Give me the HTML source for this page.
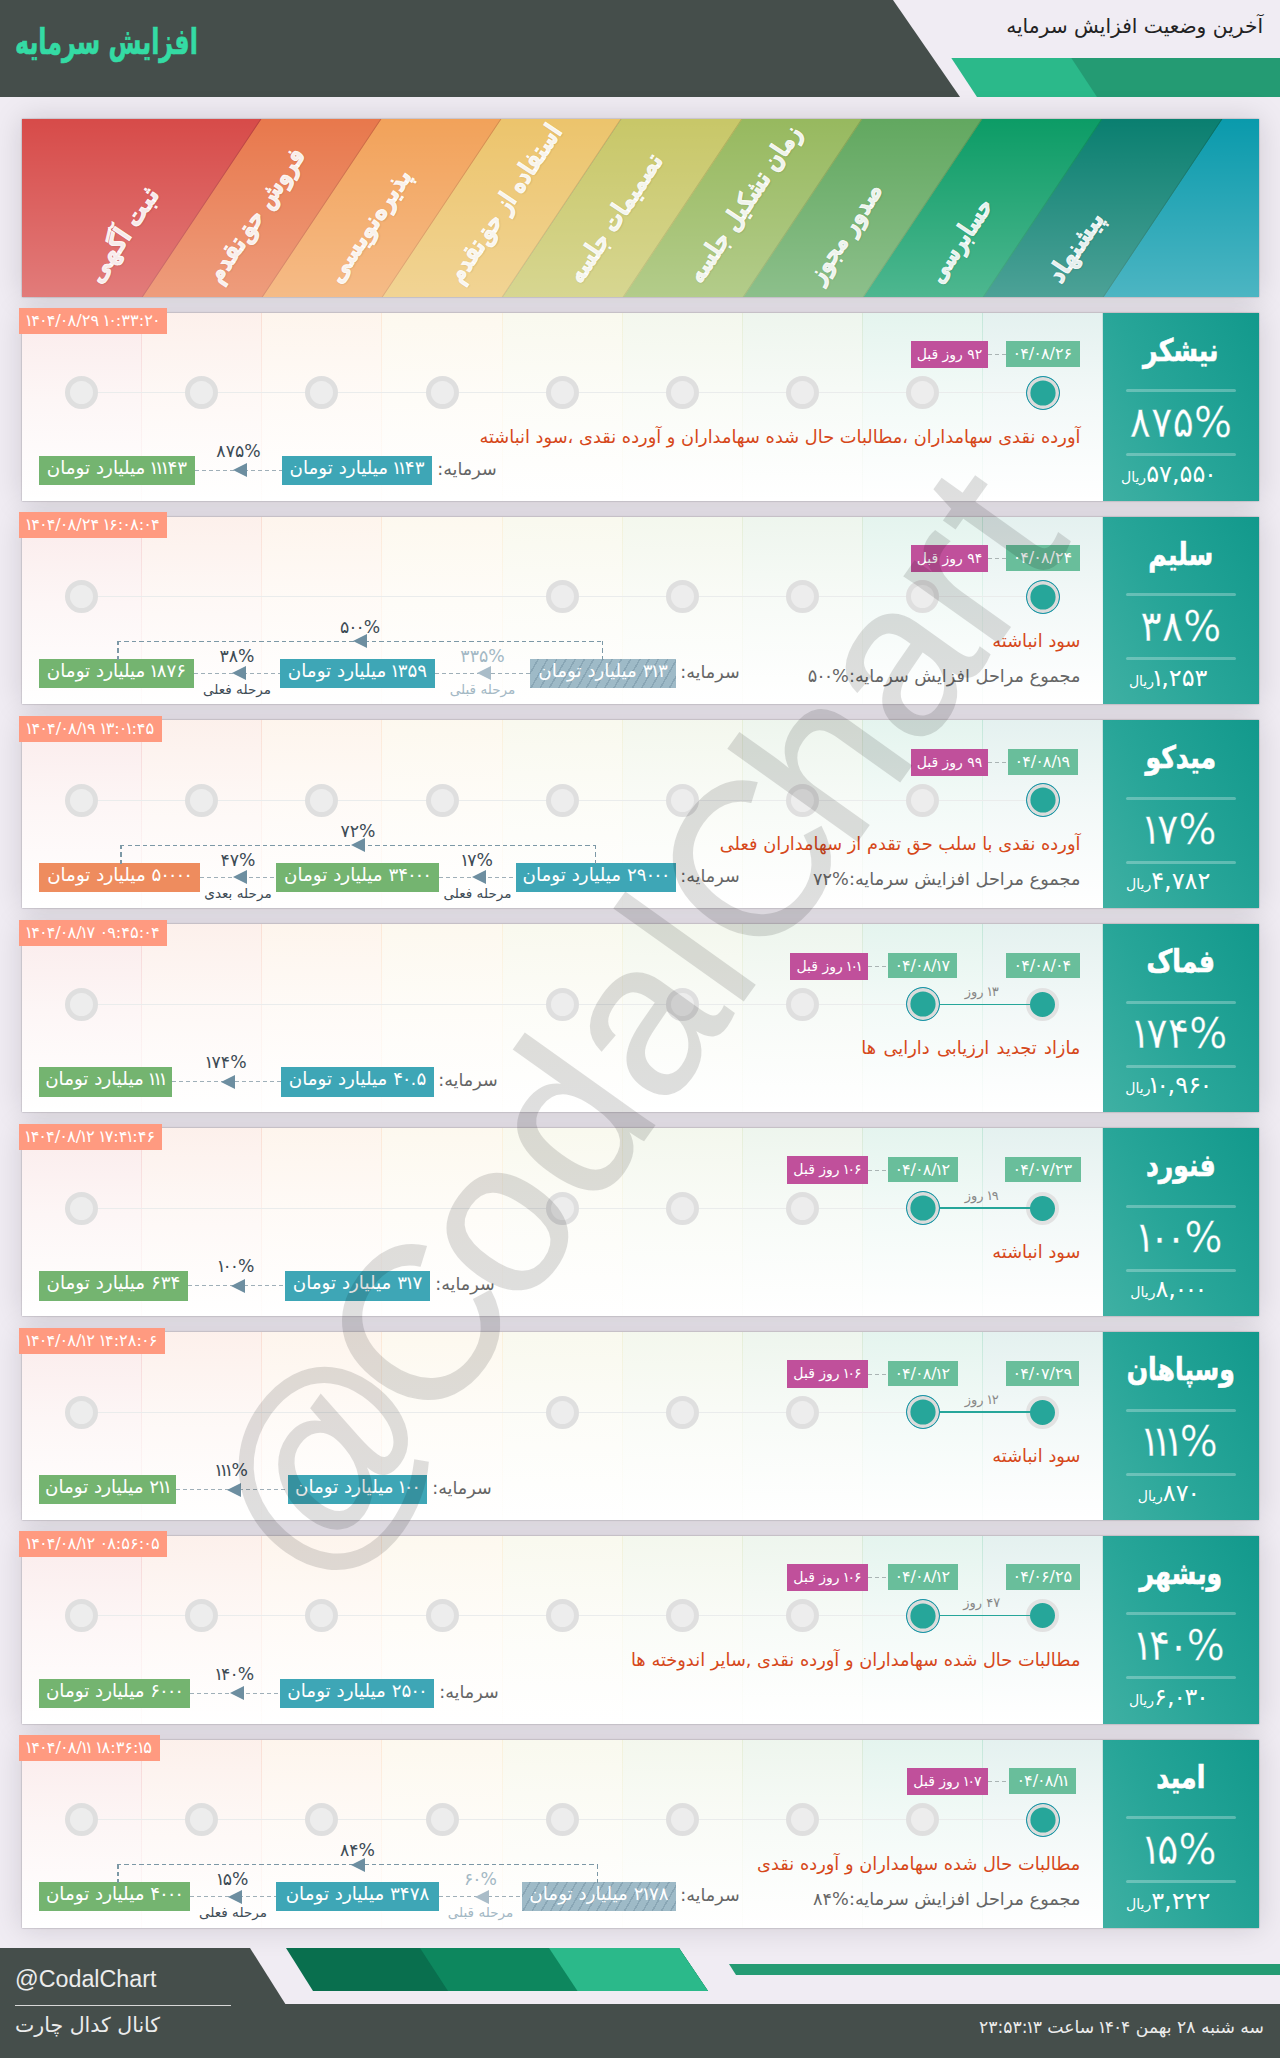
<!DOCTYPE html><html lang="fa" dir="rtl"><head><meta charset="utf-8"><title>افزایش سرمایه</title><style>
*{box-sizing:border-box}
b{font-weight:inherit;margin:0 -.12em}
b.z{margin:0 -.06em}
html,body{margin:0;padding:0}
body{width:1280px;height:2058px;background:#f0ecf3;position:relative;overflow:hidden;font-family:"DejaVu Sans","Liberation Sans",sans-serif;direction:rtl}
.abs{position:absolute}
#hdr{position:absolute;left:0;top:0;width:1280px;height:97px}
#hdr .dark{position:absolute;left:0;top:0;width:960px;height:97px;background:#454e4b;clip-path:polygon(0 0,893px 0,960px 97px,0 97px)}
#hdr .g1{position:absolute;left:951px;top:57.5px;width:329px;height:39.5px;background:#2bb98a;clip-path:polygon(0 0,100% 0,100% 100%,26px 100%)}
#hdr .g2{position:absolute;left:1071px;top:57.5px;width:209px;height:39.5px;background:#249b73;clip-path:polygon(0 0,100% 0,100% 100%,26px 100%)}
#hdr h1{position:absolute;left:15px;top:19px;margin:0;font-family:"DejaVu Sans Condensed","DejaVu Sans",sans-serif;font-stretch:condensed;font-size:36px;line-height:46px;font-weight:bold;color:#34dba4;-webkit-text-stroke:.6px #34dba4;white-space:nowrap;direction:rtl;transform:scaleX(.735);transform-origin:0 50%}
#hdr .sub{position:absolute;right:17px;top:12px;font-size:20.2px;line-height:28px;color:#222;white-space:nowrap}
#stages{position:absolute;left:22px;top:119px;width:1237px;height:177.5px;overflow:hidden;background:#0a9aac}
#stages .st{position:absolute;top:0;height:177.5px;transform:skewX(-33.69deg);transform-origin:0 100%;border-right:1px solid rgba(0,0,0,.18)}
#stages .fade{position:absolute;left:0;top:0;width:100%;height:100%;background:linear-gradient(to bottom,rgba(255,255,255,0) 0%,rgba(255,255,255,.27) 100%)}
#stages .lb{position:absolute;white-space:nowrap;color:rgba(255,255,255,.9);font-family:"DejaVu Sans Condensed","DejaVu Sans",sans-serif;font-stretch:condensed;-webkit-text-stroke:.9px rgba(255,255,255,.9);font-weight:bold;font-size:26px;line-height:30px;height:30px;transform-origin:0 100%;transform:rotate(-56.3deg) scaleX(.88);text-align:left;direction:rtl;text-shadow:0 1px 2px rgba(0,0,0,.15)}
.row{position:absolute;left:22px;width:1237px;height:187.85px;background:#fff}
.rsh{position:absolute;left:22px;width:1237px;height:187.85px;box-shadow:0 0 28px rgba(20,10,25,.15),0 0 1.5px rgba(20,10,25,.4)}
.row .col{position:absolute;top:0;height:187.85px}
.row .cl{position:absolute;top:0;height:187.85px;width:1px}
.row .hl{position:absolute;left:60px;top:79.5px;height:1px;background:#eaecec}
.row .c{position:absolute;top:63.5px;width:33px;height:33px;border-radius:50%;background:#ededed;border:5.5px solid #dfdfdf}
.row .ca{position:absolute;top:63px;width:34px;height:34px;border-radius:50%;background:#26a69a;border:1.6px solid #1a94a8;box-shadow:inset 0 0 0 3.4px #dcdcdc}
.row .cf{position:absolute;top:63.5px;width:33px;height:33px;border-radius:50%;background:#26a69a;border:4.5px solid #e2e2e2}
.row .ts{position:absolute;left:-3px;top:-4.5px;width:148px;height:26px;background:#ff9a80;color:#fff;font-size:16.2px;line-height:26px;text-align:center;direction:ltr;white-space:nowrap}
.row .panel{position:absolute;right:0;top:0;width:155.6px;height:187.85px;background:linear-gradient(60deg,#3fb0a3 0%,#27a598 45%,#12998c 100%);color:#fff;text-align:center}
.panel .nm{position:absolute;left:0;right:0;top:13px;font-family:"DejaVu Sans Condensed","DejaVu Sans",sans-serif;font-stretch:condensed;font-size:31px;line-height:48px;font-weight:bold;-webkit-text-stroke:.6px #fff;white-space:nowrap;transform:scaleX(.9)}
.panel .l1,.panel .l2{position:absolute;left:23px;width:110px;height:3px;border-radius:2px;background:rgba(255,255,255,.28)}
.panel .l1{top:76.5px}.panel .l2{top:140.5px}
.panel .pc{position:absolute;left:0;right:0;top:82px;font-size:43px;line-height:54px;white-space:nowrap;direction:ltr;-webkit-text-stroke:.35px #27a396;transform:scaleX(.93)}
.panel .pr{position:absolute;left:-26px;right:0;top:146px;font-size:24px;line-height:30px;white-space:nowrap;direction:rtl}
.panel .pr small{font-size:14px}
.bd{position:absolute;height:25.7px;line-height:25.7px;color:#fff;font-size:15px;text-align:center;white-space:nowrap;top:28.5px}
.bd.d{background:#69be9b;direction:ltr;font-size:16px}
.bd.p{background:#c0509b;direction:rtl;font-size:14px;top:28.3px;height:27.3px;line-height:27.3px}
.dash{position:absolute;height:1px;background:repeating-linear-gradient(to right,#aab4b4 0,#aab4b4 4px,transparent 4px,transparent 7px)}
.desc{position:absolute;right:178.6px;white-space:nowrap;font-size:17.8px;line-height:26px;color:#d6481a;direction:rtl}
.sum{position:absolute;right:178.6px;white-space:nowrap;font-size:17.7px;line-height:26px;color:#666;direction:rtl}
.cap{position:absolute;white-space:nowrap;font-size:17.6px;line-height:24px;color:#666;direction:rtl}
.bx{position:absolute;height:29.4px;line-height:24.4px;color:#fff;font-size:18.3px;text-align:center;white-space:nowrap;direction:rtl}
.bx.b{background:#3ea6b6}.bx.g{background:#74b470}.bx.o{background:#ee8c5e}
.bx.h{background:repeating-linear-gradient(120deg,#9ebac7 0,#9ebac7 6.5px,#89a6b5 6.5px,#89a6b5 8px)}
.fl{position:absolute;height:1px;background:repeating-linear-gradient(to right,#9fafb8 0,#9fafb8 4px,transparent 4px,transparent 7px)}
.ar{position:absolute;width:0;height:0;border-top:7px solid transparent;border-bottom:7px solid transparent;border-right:14px solid #6d8ea0}
.ar.lt{border-right-color:#a9bcc8}
.pl{position:absolute;font-size:17.3px;line-height:20px;color:#3d4b55;white-space:nowrap;direction:ltr;text-align:center;width:80px}
.pl.lt{color:#a3b8c4}
.sl{position:absolute;font-size:13.6px;line-height:18px;color:#3d4b55;white-space:nowrap;direction:rtl;text-align:center;width:90px}
.sl.lt{color:#a3b8c4}
.arc{position:absolute;height:19px}
.arc i{position:absolute;display:block}
.arc .t{left:0;right:0;top:0;height:1.4px;background:repeating-linear-gradient(to right,#7c98a6 0,#7c98a6 4.5px,transparent 4.5px,transparent 7.5px)}
.arc .l{left:0;top:0;bottom:0;width:1.5px;background:repeating-linear-gradient(to bottom,#7c98a6 0,#7c98a6 4.5px,transparent 4.5px,transparent 7.5px)}
.arc .r{right:0;top:0;bottom:0;width:1.5px;background:repeating-linear-gradient(to bottom,#7c98a6 0,#7c98a6 4.5px,transparent 4.5px,transparent 7.5px)}
.seg{position:absolute;height:1.3px;background:#26a69a;top:79.3px}
.dl{position:absolute;font-size:13px;line-height:18px;color:#888;white-space:nowrap;direction:rtl;text-align:center;width:60px}
#wm{position:absolute;left:0;top:0;width:1280px;height:2058px;pointer-events:none;overflow:hidden}
#wm{opacity:.122}
#wm i{display:inline-block;font-style:normal;text-align:center}
#wm span{position:absolute;left:635px;top:1022px;font-family:"Liberation Sans",sans-serif;font-size:219px;line-height:200px;color:#000;-webkit-text-stroke:1.5px #000;white-space:nowrap;direction:ltr;transform:translate(-50%,-50%) rotate(-54.5deg)}
#ftr{position:absolute;left:0;top:1948px;width:1280px;height:110px}
#ftr .bar{position:absolute;left:0;top:56px;width:1280px;height:54px;background:#454e4b}
#ftr .blk{position:absolute;left:0;top:0;width:290px;height:57px;background:#454e4b;clip-path:polygon(0 0,250px 0,286px 57px,0 57px)}
#ftr .p1,#ftr .p2,#ftr .p3{position:absolute;top:0;height:43px}
#ftr .p1{left:286px;width:422px;background:#096f4e;clip-path:polygon(0 0,393px 0,422px 43px,27px 43px)}
#ftr .p2{left:420px;width:288px;background:#0d875e;clip-path:polygon(0 0,259px 0,288px 43px,28px 43px)}
#ftr .p3{left:549px;width:159px;background:#2bb98a;clip-path:polygon(0 0,130px 0,159px 43px,28.5px 43px)}
#ftr .ln{position:absolute;left:729px;top:16px;width:551px;height:11px;background:#249b73;clip-path:polygon(0 0,100% 0,100% 100%,7px 100%)}
#ftr .t1{position:absolute;left:15px;top:17px;font-family:"Liberation Sans",sans-serif;font-size:23.3px;line-height:28px;color:#ececec;direction:ltr;white-space:nowrap}
#ftr .hr{position:absolute;left:15px;top:57px;width:216px;height:1px;background:#d8d8d8}
#ftr .t2{position:absolute;left:15px;top:62px;font-size:20.5px;line-height:30px;color:#ececec;white-space:nowrap;direction:rtl}
#ftr .t3{position:absolute;right:16px;top:66px;font-size:17.2px;line-height:26px;color:#ececec;white-space:nowrap;direction:rtl}
</style></head><body>
<div id="hdr"><div class="dark"></div><div class="g1"></div><div class="g2"></div><h1>افزایش سرمایه</h1><div class="sub">آخرین وضعیت افزایش سرمایه</div></div>
<div class="rsh" style="top:119px;height:177.5px"></div><div class="rsh" style="top:312.7px"></div><div class="rsh" style="top:516.56px"></div><div class="rsh" style="top:720.4200000000001px"></div><div class="rsh" style="top:924.28px"></div><div class="rsh" style="top:1128.14px"></div><div class="rsh" style="top:1332.0px"></div><div class="rsh" style="top:1535.8600000000001px"></div><div class="rsh" style="top:1739.72px"></div>
<div id="stages"><div class="st" style="left:1081.40px;width:241.31px;background:#0a9aac;border-right-color:#088493"></div><div class="st" style="left:961.24px;width:121.16px;background:#0a7f70;border-right-color:#086d60"></div><div class="st" style="left:841.09px;width:121.16px;background:#0c9c66;border-right-color:#0a8657"></div><div class="st" style="left:720.93px;width:121.16px;background:#62a860;border-right-color:#549052"></div><div class="st" style="left:600.78px;width:121.16px;background:#97b95f;border-right-color:#819f51"></div><div class="st" style="left:480.62px;width:121.16px;background:#c8c768;border-right-color:#acab59"></div><div class="st" style="left:360.47px;width:121.16px;background:#ecc46c;border-right-color:#caa85c"></div><div class="st" style="left:240.31px;width:121.16px;background:#f2a25a;border-right-color:#d08b4d"></div><div class="st" style="left:120.16px;width:121.16px;background:#e8784c;border-right-color:#c76741"></div><div class="st" style="left:-120.16px;width:241.31px;background:#d74b49;border-right-color:#b8403e"></div><div class="fade"></div><div class="lb" style="left:83.0px;top:139px;transform:rotate(-56.3deg) scaleX(0.97)">ثبت آگهی</div><div class="lb" style="left:203.2px;top:139px;transform:rotate(-56.3deg) scaleX(0.87)">فروش حق‌تقدم</div><div class="lb" style="left:323.3px;top:139px;transform:rotate(-56.3deg) scaleX(0.94)">پذیره‌نویسی</div><div class="lb" style="left:443.5px;top:139px;transform:rotate(-56.3deg) scaleX(0.82)">استفاده از حق‌تقدم</div><div class="lb" style="left:563.6px;top:139px;transform:rotate(-56.3deg) scaleX(0.84)">تصمیمات جلسه</div><div class="lb" style="left:683.8px;top:139px;transform:rotate(-56.3deg) scaleX(0.855)">زمان تشکیل جلسه</div><div class="lb" style="left:803.9px;top:139px;transform:rotate(-56.3deg) scaleX(0.86)">صدور مجوز</div><div class="lb" style="left:924.1px;top:139px;transform:rotate(-56.3deg) scaleX(0.8)">حسابرسی</div><div class="lb" style="left:1044.2px;top:139px;transform:rotate(-56.3deg) scaleX(0.9)">پیشنهاد</div></div>
<div class="row" style="top:312.7px"><div class="col" style="left:0.00px;width:120.16px;background:linear-gradient(to bottom,rgba(215,75,73,0.11) 0%,rgba(215,75,73,0.05) 45%,rgba(215,75,73,0) 100%)"></div><div class="cl" style="left:119.16px;background:linear-gradient(to bottom,rgba(215,75,73,0.15) 0%,rgba(215,75,73,0.06) 50%,rgba(215,75,73,0.015) 100%)"></div><div class="col" style="left:120.16px;width:120.16px;background:linear-gradient(to bottom,rgba(232,120,76,0.11) 0%,rgba(232,120,76,0.05) 45%,rgba(232,120,76,0) 100%)"></div><div class="cl" style="left:239.31px;background:linear-gradient(to bottom,rgba(232,120,76,0.15) 0%,rgba(232,120,76,0.06) 50%,rgba(232,120,76,0.015) 100%)"></div><div class="col" style="left:240.31px;width:120.16px;background:linear-gradient(to bottom,rgba(242,162,90,0.11) 0%,rgba(242,162,90,0.05) 45%,rgba(242,162,90,0) 100%)"></div><div class="cl" style="left:359.47px;background:linear-gradient(to bottom,rgba(242,162,90,0.15) 0%,rgba(242,162,90,0.06) 50%,rgba(242,162,90,0.015) 100%)"></div><div class="col" style="left:360.47px;width:120.16px;background:linear-gradient(to bottom,rgba(236,196,108,0.11) 0%,rgba(236,196,108,0.05) 45%,rgba(236,196,108,0) 100%)"></div><div class="cl" style="left:479.62px;background:linear-gradient(to bottom,rgba(236,196,108,0.15) 0%,rgba(236,196,108,0.06) 50%,rgba(236,196,108,0.015) 100%)"></div><div class="col" style="left:480.62px;width:120.16px;background:linear-gradient(to bottom,rgba(200,199,104,0.11) 0%,rgba(200,199,104,0.05) 45%,rgba(200,199,104,0) 100%)"></div><div class="cl" style="left:599.78px;background:linear-gradient(to bottom,rgba(200,199,104,0.15) 0%,rgba(200,199,104,0.06) 50%,rgba(200,199,104,0.015) 100%)"></div><div class="col" style="left:600.78px;width:120.16px;background:linear-gradient(to bottom,rgba(151,185,95,0.11) 0%,rgba(151,185,95,0.05) 45%,rgba(151,185,95,0) 100%)"></div><div class="cl" style="left:719.93px;background:linear-gradient(to bottom,rgba(151,185,95,0.15) 0%,rgba(151,185,95,0.06) 50%,rgba(151,185,95,0.015) 100%)"></div><div class="col" style="left:720.93px;width:120.16px;background:linear-gradient(to bottom,rgba(98,168,96,0.11) 0%,rgba(98,168,96,0.05) 45%,rgba(98,168,96,0) 100%)"></div><div class="cl" style="left:840.09px;background:linear-gradient(to bottom,rgba(98,168,96,0.15) 0%,rgba(98,168,96,0.06) 50%,rgba(98,168,96,0.015) 100%)"></div><div class="col" style="left:841.09px;width:120.16px;background:linear-gradient(to bottom,rgba(12,156,102,0.11) 0%,rgba(12,156,102,0.05) 45%,rgba(12,156,102,0) 100%)"></div><div class="cl" style="left:960.24px;background:linear-gradient(to bottom,rgba(12,156,102,0.15) 0%,rgba(12,156,102,0.06) 50%,rgba(12,156,102,0.015) 100%)"></div><div class="col" style="left:961.24px;width:120.16px;background:linear-gradient(to bottom,rgba(10,127,112,0.11) 0%,rgba(10,127,112,0.05) 45%,rgba(10,127,112,0) 100%)"></div><div class="cl" style="left:1080.40px;background:linear-gradient(to bottom,rgba(10,127,112,0.15) 0%,rgba(10,127,112,0.06) 50%,rgba(10,127,112,0.015) 100%)"></div><div class="hl" style="left:59.6px;width:961.2px"></div><div class="c" style="left:43.1px"></div><div class="c" style="left:163.2px"></div><div class="c" style="left:283.4px"></div><div class="c" style="left:403.5px"></div><div class="c" style="left:523.7px"></div><div class="c" style="left:643.9px"></div><div class="c" style="left:764.0px"></div><div class="c" style="left:884.2px"></div><div class="ca" style="left:1003.8px"></div><div class="bd d" style="left:983.8px;width:74px"><b class="z">۰</b>۴/<b class="z">۰</b>۸/۲۶</div><div class="dash" style="left:966.0px;width:17.8px;top:41.5px"></div><div class="bd p" style="left:889.0px;width:77px">۹۲ روز قبل</div><div class="desc" style="top:111px">آورده نقدی سهامداران ،مطالبات حال شده سهامداران و آورده نقدی ،سود انباشته</div><div class="ts" style="width:148.0px"><b>۱</b>۴<b class="z">۰</b>۴/<b class="z">۰</b>۸/۲۹ <b>۱</b><b class="z">۰</b>:۳۳:۲<b class="z">۰</b></div><div class="cap" style="left:407.5px;width:75.0px;text-align:center;top:144px">سرمایه:</div><div class="bx b" style="left:260.0px;width:150px;top:143px"><b>۱</b><b>۱</b>۴۳ میلیارد تومان</div><div class="bx g" style="left:17.0px;width:156px;top:143px"><b>۱</b><b>۱</b><b>۱</b>۴۳ میلیارد تومان</div><div class="fl" style="left:173.0px;width:87px;top:157px"></div><div class="ar" style="left:211.0px;top:150.5px"></div><div class="pl" style="left:176.5px;top:128px">۸۷۵%</div><div class="panel"><div class="nm">نیشکر</div><div class="l1"></div><div class="pc">۸۷۵%</div><div class="l2"></div><div class="pr">۵۷,۵۵<b class="z">۰</b><small>ریال</small></div></div></div>
<div class="row" style="top:516.56px"><div class="col" style="left:0.00px;width:120.16px;background:linear-gradient(to bottom,rgba(215,75,73,0.11) 0%,rgba(215,75,73,0.05) 45%,rgba(215,75,73,0) 100%)"></div><div class="cl" style="left:119.16px;background:linear-gradient(to bottom,rgba(215,75,73,0.15) 0%,rgba(215,75,73,0.06) 50%,rgba(215,75,73,0.015) 100%)"></div><div class="col" style="left:120.16px;width:120.16px;background:linear-gradient(to bottom,rgba(232,120,76,0.11) 0%,rgba(232,120,76,0.05) 45%,rgba(232,120,76,0) 100%)"></div><div class="cl" style="left:239.31px;background:linear-gradient(to bottom,rgba(232,120,76,0.15) 0%,rgba(232,120,76,0.06) 50%,rgba(232,120,76,0.015) 100%)"></div><div class="col" style="left:240.31px;width:120.16px;background:linear-gradient(to bottom,rgba(242,162,90,0.11) 0%,rgba(242,162,90,0.05) 45%,rgba(242,162,90,0) 100%)"></div><div class="cl" style="left:359.47px;background:linear-gradient(to bottom,rgba(242,162,90,0.15) 0%,rgba(242,162,90,0.06) 50%,rgba(242,162,90,0.015) 100%)"></div><div class="col" style="left:360.47px;width:120.16px;background:linear-gradient(to bottom,rgba(236,196,108,0.11) 0%,rgba(236,196,108,0.05) 45%,rgba(236,196,108,0) 100%)"></div><div class="cl" style="left:479.62px;background:linear-gradient(to bottom,rgba(236,196,108,0.15) 0%,rgba(236,196,108,0.06) 50%,rgba(236,196,108,0.015) 100%)"></div><div class="col" style="left:480.62px;width:120.16px;background:linear-gradient(to bottom,rgba(200,199,104,0.11) 0%,rgba(200,199,104,0.05) 45%,rgba(200,199,104,0) 100%)"></div><div class="cl" style="left:599.78px;background:linear-gradient(to bottom,rgba(200,199,104,0.15) 0%,rgba(200,199,104,0.06) 50%,rgba(200,199,104,0.015) 100%)"></div><div class="col" style="left:600.78px;width:120.16px;background:linear-gradient(to bottom,rgba(151,185,95,0.11) 0%,rgba(151,185,95,0.05) 45%,rgba(151,185,95,0) 100%)"></div><div class="cl" style="left:719.93px;background:linear-gradient(to bottom,rgba(151,185,95,0.15) 0%,rgba(151,185,95,0.06) 50%,rgba(151,185,95,0.015) 100%)"></div><div class="col" style="left:720.93px;width:120.16px;background:linear-gradient(to bottom,rgba(98,168,96,0.11) 0%,rgba(98,168,96,0.05) 45%,rgba(98,168,96,0) 100%)"></div><div class="cl" style="left:840.09px;background:linear-gradient(to bottom,rgba(98,168,96,0.15) 0%,rgba(98,168,96,0.06) 50%,rgba(98,168,96,0.015) 100%)"></div><div class="col" style="left:841.09px;width:120.16px;background:linear-gradient(to bottom,rgba(12,156,102,0.11) 0%,rgba(12,156,102,0.05) 45%,rgba(12,156,102,0) 100%)"></div><div class="cl" style="left:960.24px;background:linear-gradient(to bottom,rgba(12,156,102,0.15) 0%,rgba(12,156,102,0.06) 50%,rgba(12,156,102,0.015) 100%)"></div><div class="col" style="left:961.24px;width:120.16px;background:linear-gradient(to bottom,rgba(10,127,112,0.11) 0%,rgba(10,127,112,0.05) 45%,rgba(10,127,112,0) 100%)"></div><div class="cl" style="left:1080.40px;background:linear-gradient(to bottom,rgba(10,127,112,0.15) 0%,rgba(10,127,112,0.06) 50%,rgba(10,127,112,0.015) 100%)"></div><div class="hl" style="left:59.6px;width:961.2px"></div><div class="c" style="left:43.1px"></div><div class="c" style="left:523.7px"></div><div class="c" style="left:643.9px"></div><div class="c" style="left:764.0px"></div><div class="c" style="left:884.2px"></div><div class="ca" style="left:1003.8px"></div><div class="bd d" style="left:984.1px;width:73.5px"><b class="z">۰</b>۴/<b class="z">۰</b>۸/۲۴</div><div class="dash" style="left:966.0px;width:18.1px;top:41.5px"></div><div class="bd p" style="left:889.0px;width:77px">۹۴ روز قبل</div><div class="desc" style="top:111px">سود انباشته</div><div class="sum" style="top:146px">مجموع مراحل افزایش سرمایه:%۵<b class="z">۰</b><b class="z">۰</b></div><div class="ts" style="width:148.0px"><b>۱</b>۴<b class="z">۰</b>۴/<b class="z">۰</b>۸/۲۴ <b>۱</b>۶:<b class="z">۰</b>۸:<b class="z">۰</b>۴</div><div class="cap" style="left:650.0px;width:76px;text-align:center;top:143.3px">سرمایه:</div><div class="bx h" style="left:508.0px;width:146px;top:142.3px">۳<b>۱</b>۳ میلیارد تومان</div><div class="bx b" style="left:258.0px;width:155px;top:142.3px"><b>۱</b>۳۵۹ میلیارد تومان</div><div class="bx g" style="left:17.0px;width:155px;top:142.3px"><b>۱</b>۸۷۶ میلیارد تومان</div><div class="fl" style="left:413.0px;width:95px;top:156.3px"></div><div class="ar lt" style="left:455.0px;top:149.8px"></div><div class="pl lt" style="left:420.5px;top:129.3px">۳۳۵%</div><div class="sl lt" style="left:415.5px;top:163.3px">مرحله قبلی</div><div class="fl" style="left:172.0px;width:86px;top:156.3px"></div><div class="ar" style="left:209.5px;top:149.8px"></div><div class="pl" style="left:175.0px;top:129.3px">۳۸%</div><div class="sl" style="left:170.0px;top:163.3px">مرحله فعلی</div><div class="arc" style="left:95.0px;width:486px;top:124.30000000000001px"><i class="t"></i><i class="l"></i><i class="r"></i></div><div class="ar" style="left:331.0px;top:117.80000000000001px"></div><div class="pl" style="left:298.0px;top:100.30000000000001px">۵<b class="z">۰</b><b class="z">۰</b>%</div><div class="panel"><div class="nm">سلیم</div><div class="l1"></div><div class="pc">۳۸%</div><div class="l2"></div><div class="pr"><b>۱</b>,۲۵۳<small>ریال</small></div></div></div>
<div class="row" style="top:720.4200000000001px"><div class="col" style="left:0.00px;width:120.16px;background:linear-gradient(to bottom,rgba(215,75,73,0.11) 0%,rgba(215,75,73,0.05) 45%,rgba(215,75,73,0) 100%)"></div><div class="cl" style="left:119.16px;background:linear-gradient(to bottom,rgba(215,75,73,0.15) 0%,rgba(215,75,73,0.06) 50%,rgba(215,75,73,0.015) 100%)"></div><div class="col" style="left:120.16px;width:120.16px;background:linear-gradient(to bottom,rgba(232,120,76,0.11) 0%,rgba(232,120,76,0.05) 45%,rgba(232,120,76,0) 100%)"></div><div class="cl" style="left:239.31px;background:linear-gradient(to bottom,rgba(232,120,76,0.15) 0%,rgba(232,120,76,0.06) 50%,rgba(232,120,76,0.015) 100%)"></div><div class="col" style="left:240.31px;width:120.16px;background:linear-gradient(to bottom,rgba(242,162,90,0.11) 0%,rgba(242,162,90,0.05) 45%,rgba(242,162,90,0) 100%)"></div><div class="cl" style="left:359.47px;background:linear-gradient(to bottom,rgba(242,162,90,0.15) 0%,rgba(242,162,90,0.06) 50%,rgba(242,162,90,0.015) 100%)"></div><div class="col" style="left:360.47px;width:120.16px;background:linear-gradient(to bottom,rgba(236,196,108,0.11) 0%,rgba(236,196,108,0.05) 45%,rgba(236,196,108,0) 100%)"></div><div class="cl" style="left:479.62px;background:linear-gradient(to bottom,rgba(236,196,108,0.15) 0%,rgba(236,196,108,0.06) 50%,rgba(236,196,108,0.015) 100%)"></div><div class="col" style="left:480.62px;width:120.16px;background:linear-gradient(to bottom,rgba(200,199,104,0.11) 0%,rgba(200,199,104,0.05) 45%,rgba(200,199,104,0) 100%)"></div><div class="cl" style="left:599.78px;background:linear-gradient(to bottom,rgba(200,199,104,0.15) 0%,rgba(200,199,104,0.06) 50%,rgba(200,199,104,0.015) 100%)"></div><div class="col" style="left:600.78px;width:120.16px;background:linear-gradient(to bottom,rgba(151,185,95,0.11) 0%,rgba(151,185,95,0.05) 45%,rgba(151,185,95,0) 100%)"></div><div class="cl" style="left:719.93px;background:linear-gradient(to bottom,rgba(151,185,95,0.15) 0%,rgba(151,185,95,0.06) 50%,rgba(151,185,95,0.015) 100%)"></div><div class="col" style="left:720.93px;width:120.16px;background:linear-gradient(to bottom,rgba(98,168,96,0.11) 0%,rgba(98,168,96,0.05) 45%,rgba(98,168,96,0) 100%)"></div><div class="cl" style="left:840.09px;background:linear-gradient(to bottom,rgba(98,168,96,0.15) 0%,rgba(98,168,96,0.06) 50%,rgba(98,168,96,0.015) 100%)"></div><div class="col" style="left:841.09px;width:120.16px;background:linear-gradient(to bottom,rgba(12,156,102,0.11) 0%,rgba(12,156,102,0.05) 45%,rgba(12,156,102,0) 100%)"></div><div class="cl" style="left:960.24px;background:linear-gradient(to bottom,rgba(12,156,102,0.15) 0%,rgba(12,156,102,0.06) 50%,rgba(12,156,102,0.015) 100%)"></div><div class="col" style="left:961.24px;width:120.16px;background:linear-gradient(to bottom,rgba(10,127,112,0.11) 0%,rgba(10,127,112,0.05) 45%,rgba(10,127,112,0) 100%)"></div><div class="cl" style="left:1080.40px;background:linear-gradient(to bottom,rgba(10,127,112,0.15) 0%,rgba(10,127,112,0.06) 50%,rgba(10,127,112,0.015) 100%)"></div><div class="hl" style="left:59.6px;width:961.2px"></div><div class="c" style="left:43.1px"></div><div class="c" style="left:163.2px"></div><div class="c" style="left:283.4px"></div><div class="c" style="left:403.5px"></div><div class="c" style="left:523.7px"></div><div class="c" style="left:643.9px"></div><div class="c" style="left:764.0px"></div><div class="c" style="left:884.2px"></div><div class="ca" style="left:1003.8px"></div><div class="bd d" style="left:986.1px;width:69.5px"><b class="z">۰</b>۴/<b class="z">۰</b>۸/<b>۱</b>۹</div><div class="dash" style="left:966.0px;width:20.1px;top:41.5px"></div><div class="bd p" style="left:889.0px;width:77px">۹۹ روز قبل</div><div class="desc" style="top:111px">آورده نقدی با سلب حق تقدم از سهامداران فعلی</div><div class="sum" style="top:146px">مجموع مراحل افزایش سرمایه:%۷۲</div><div class="ts" style="width:143.0px"><b>۱</b>۴<b class="z">۰</b>۴/<b class="z">۰</b>۸/<b>۱</b>۹ <b>۱</b>۳:<b class="z">۰</b><b>۱</b>:۴۵</div><div class="cap" style="left:650.0px;width:76px;text-align:center;top:143.3px">سرمایه:</div><div class="bx b" style="left:494.0px;width:160px;top:142.3px">۲۹<b class="z">۰</b><b class="z">۰</b><b class="z">۰</b> میلیارد تومان</div><div class="bx g" style="left:254.0px;width:163px;top:142.3px">۳۴<b class="z">۰</b><b class="z">۰</b><b class="z">۰</b> میلیارد تومان</div><div class="bx o" style="left:17.0px;width:161px;top:142.3px">۵<b class="z">۰</b><b class="z">۰</b><b class="z">۰</b><b class="z">۰</b> میلیارد تومان</div><div class="fl" style="left:417.0px;width:77px;top:156.3px"></div><div class="ar" style="left:450.0px;top:149.8px"></div><div class="pl" style="left:415.5px;top:129.3px"><b>۱</b>۷%</div><div class="sl" style="left:410.5px;top:163.3px">مرحله فعلی</div><div class="fl" style="left:178.0px;width:76px;top:156.3px"></div><div class="ar" style="left:210.5px;top:149.8px"></div><div class="pl" style="left:176.0px;top:129.3px">۴۷%</div><div class="sl" style="left:171.0px;top:163.3px">مرحله بعدی</div><div class="arc" style="left:98.0px;width:476px;top:124.30000000000001px"><i class="t"></i><i class="l"></i><i class="r"></i></div><div class="ar" style="left:329.0px;top:117.80000000000001px"></div><div class="pl" style="left:296.0px;top:100.30000000000001px">۷۲%</div><div class="panel"><div class="nm">میدکو</div><div class="l1"></div><div class="pc"><b>۱</b>۷%</div><div class="l2"></div><div class="pr">۴,۷۸۲<small>ریال</small></div></div></div>
<div class="row" style="top:924.28px"><div class="col" style="left:0.00px;width:120.16px;background:linear-gradient(to bottom,rgba(215,75,73,0.11) 0%,rgba(215,75,73,0.05) 45%,rgba(215,75,73,0) 100%)"></div><div class="cl" style="left:119.16px;background:linear-gradient(to bottom,rgba(215,75,73,0.15) 0%,rgba(215,75,73,0.06) 50%,rgba(215,75,73,0.015) 100%)"></div><div class="col" style="left:120.16px;width:120.16px;background:linear-gradient(to bottom,rgba(232,120,76,0.11) 0%,rgba(232,120,76,0.05) 45%,rgba(232,120,76,0) 100%)"></div><div class="cl" style="left:239.31px;background:linear-gradient(to bottom,rgba(232,120,76,0.15) 0%,rgba(232,120,76,0.06) 50%,rgba(232,120,76,0.015) 100%)"></div><div class="col" style="left:240.31px;width:120.16px;background:linear-gradient(to bottom,rgba(242,162,90,0.11) 0%,rgba(242,162,90,0.05) 45%,rgba(242,162,90,0) 100%)"></div><div class="cl" style="left:359.47px;background:linear-gradient(to bottom,rgba(242,162,90,0.15) 0%,rgba(242,162,90,0.06) 50%,rgba(242,162,90,0.015) 100%)"></div><div class="col" style="left:360.47px;width:120.16px;background:linear-gradient(to bottom,rgba(236,196,108,0.11) 0%,rgba(236,196,108,0.05) 45%,rgba(236,196,108,0) 100%)"></div><div class="cl" style="left:479.62px;background:linear-gradient(to bottom,rgba(236,196,108,0.15) 0%,rgba(236,196,108,0.06) 50%,rgba(236,196,108,0.015) 100%)"></div><div class="col" style="left:480.62px;width:120.16px;background:linear-gradient(to bottom,rgba(200,199,104,0.11) 0%,rgba(200,199,104,0.05) 45%,rgba(200,199,104,0) 100%)"></div><div class="cl" style="left:599.78px;background:linear-gradient(to bottom,rgba(200,199,104,0.15) 0%,rgba(200,199,104,0.06) 50%,rgba(200,199,104,0.015) 100%)"></div><div class="col" style="left:600.78px;width:120.16px;background:linear-gradient(to bottom,rgba(151,185,95,0.11) 0%,rgba(151,185,95,0.05) 45%,rgba(151,185,95,0) 100%)"></div><div class="cl" style="left:719.93px;background:linear-gradient(to bottom,rgba(151,185,95,0.15) 0%,rgba(151,185,95,0.06) 50%,rgba(151,185,95,0.015) 100%)"></div><div class="col" style="left:720.93px;width:120.16px;background:linear-gradient(to bottom,rgba(98,168,96,0.11) 0%,rgba(98,168,96,0.05) 45%,rgba(98,168,96,0) 100%)"></div><div class="cl" style="left:840.09px;background:linear-gradient(to bottom,rgba(98,168,96,0.15) 0%,rgba(98,168,96,0.06) 50%,rgba(98,168,96,0.015) 100%)"></div><div class="col" style="left:841.09px;width:120.16px;background:linear-gradient(to bottom,rgba(12,156,102,0.11) 0%,rgba(12,156,102,0.05) 45%,rgba(12,156,102,0) 100%)"></div><div class="cl" style="left:960.24px;background:linear-gradient(to bottom,rgba(12,156,102,0.15) 0%,rgba(12,156,102,0.06) 50%,rgba(12,156,102,0.015) 100%)"></div><div class="col" style="left:961.24px;width:120.16px;background:linear-gradient(to bottom,rgba(10,127,112,0.11) 0%,rgba(10,127,112,0.05) 45%,rgba(10,127,112,0) 100%)"></div><div class="cl" style="left:1080.40px;background:linear-gradient(to bottom,rgba(10,127,112,0.15) 0%,rgba(10,127,112,0.06) 50%,rgba(10,127,112,0.015) 100%)"></div><div class="hl" style="left:59.6px;width:961.2px"></div><div class="c" style="left:43.1px"></div><div class="c" style="left:523.7px"></div><div class="c" style="left:643.9px"></div><div class="c" style="left:764.0px"></div><div class="ca" style="left:883.7px"></div><div class="cf" style="left:1004.3px"></div><div class="seg" style="left:917.7px;width:91.2px"></div><div class="dl" style="left:929.7px;top:58.5px"><b>۱</b>۳ روز</div><div class="bd d" style="left:984.1px;width:73.5px"><b class="z">۰</b>۴/<b class="z">۰</b>۸/<b class="z">۰</b>۴</div><div class="bd d" style="left:866.2px;width:69px"><b class="z">۰</b>۴/<b class="z">۰</b>۸/<b>۱</b>۷</div><div class="dash" style="left:846.0px;width:20.2px;top:41.5px"></div><div class="bd p" style="left:768.0px;width:78px"><b>۱</b><b class="z">۰</b><b>۱</b> روز قبل</div><div class="desc" style="top:111px;word-spacing:1.7px">مازاد تجدید ارزیابی دارایی ها</div><div class="ts" style="width:148.0px"><b>۱</b>۴<b class="z">۰</b>۴/<b class="z">۰</b>۸/<b>۱</b>۷ <b class="z">۰</b>۹:۴۵:<b class="z">۰</b>۴</div><div class="cap" style="left:408.0px;width:76px;text-align:center;top:144px">سرمایه:</div><div class="bx b" style="left:259.0px;width:153px;top:143px">۴<b class="z">۰</b>.۵ میلیارد تومان</div><div class="bx g" style="left:17.0px;width:133px;top:143px"><b>۱</b><b>۱</b><b>۱</b> میلیارد تومان</div><div class="fl" style="left:150.0px;width:109px;top:157px"></div><div class="ar" style="left:199.0px;top:150.5px"></div><div class="pl" style="left:164.5px;top:128px"><b>۱</b>۷۴%</div><div class="panel"><div class="nm">فماک</div><div class="l1"></div><div class="pc"><b>۱</b>۷۴%</div><div class="l2"></div><div class="pr"><b>۱</b><b class="z">۰</b>,۹۶<b class="z">۰</b><small>ریال</small></div></div></div>
<div class="row" style="top:1128.14px"><div class="col" style="left:0.00px;width:120.16px;background:linear-gradient(to bottom,rgba(215,75,73,0.11) 0%,rgba(215,75,73,0.05) 45%,rgba(215,75,73,0) 100%)"></div><div class="cl" style="left:119.16px;background:linear-gradient(to bottom,rgba(215,75,73,0.15) 0%,rgba(215,75,73,0.06) 50%,rgba(215,75,73,0.015) 100%)"></div><div class="col" style="left:120.16px;width:120.16px;background:linear-gradient(to bottom,rgba(232,120,76,0.11) 0%,rgba(232,120,76,0.05) 45%,rgba(232,120,76,0) 100%)"></div><div class="cl" style="left:239.31px;background:linear-gradient(to bottom,rgba(232,120,76,0.15) 0%,rgba(232,120,76,0.06) 50%,rgba(232,120,76,0.015) 100%)"></div><div class="col" style="left:240.31px;width:120.16px;background:linear-gradient(to bottom,rgba(242,162,90,0.11) 0%,rgba(242,162,90,0.05) 45%,rgba(242,162,90,0) 100%)"></div><div class="cl" style="left:359.47px;background:linear-gradient(to bottom,rgba(242,162,90,0.15) 0%,rgba(242,162,90,0.06) 50%,rgba(242,162,90,0.015) 100%)"></div><div class="col" style="left:360.47px;width:120.16px;background:linear-gradient(to bottom,rgba(236,196,108,0.11) 0%,rgba(236,196,108,0.05) 45%,rgba(236,196,108,0) 100%)"></div><div class="cl" style="left:479.62px;background:linear-gradient(to bottom,rgba(236,196,108,0.15) 0%,rgba(236,196,108,0.06) 50%,rgba(236,196,108,0.015) 100%)"></div><div class="col" style="left:480.62px;width:120.16px;background:linear-gradient(to bottom,rgba(200,199,104,0.11) 0%,rgba(200,199,104,0.05) 45%,rgba(200,199,104,0) 100%)"></div><div class="cl" style="left:599.78px;background:linear-gradient(to bottom,rgba(200,199,104,0.15) 0%,rgba(200,199,104,0.06) 50%,rgba(200,199,104,0.015) 100%)"></div><div class="col" style="left:600.78px;width:120.16px;background:linear-gradient(to bottom,rgba(151,185,95,0.11) 0%,rgba(151,185,95,0.05) 45%,rgba(151,185,95,0) 100%)"></div><div class="cl" style="left:719.93px;background:linear-gradient(to bottom,rgba(151,185,95,0.15) 0%,rgba(151,185,95,0.06) 50%,rgba(151,185,95,0.015) 100%)"></div><div class="col" style="left:720.93px;width:120.16px;background:linear-gradient(to bottom,rgba(98,168,96,0.11) 0%,rgba(98,168,96,0.05) 45%,rgba(98,168,96,0) 100%)"></div><div class="cl" style="left:840.09px;background:linear-gradient(to bottom,rgba(98,168,96,0.15) 0%,rgba(98,168,96,0.06) 50%,rgba(98,168,96,0.015) 100%)"></div><div class="col" style="left:841.09px;width:120.16px;background:linear-gradient(to bottom,rgba(12,156,102,0.11) 0%,rgba(12,156,102,0.05) 45%,rgba(12,156,102,0) 100%)"></div><div class="cl" style="left:960.24px;background:linear-gradient(to bottom,rgba(12,156,102,0.15) 0%,rgba(12,156,102,0.06) 50%,rgba(12,156,102,0.015) 100%)"></div><div class="col" style="left:961.24px;width:120.16px;background:linear-gradient(to bottom,rgba(10,127,112,0.11) 0%,rgba(10,127,112,0.05) 45%,rgba(10,127,112,0) 100%)"></div><div class="cl" style="left:1080.40px;background:linear-gradient(to bottom,rgba(10,127,112,0.15) 0%,rgba(10,127,112,0.06) 50%,rgba(10,127,112,0.015) 100%)"></div><div class="hl" style="left:59.6px;width:961.2px"></div><div class="c" style="left:43.1px"></div><div class="c" style="left:523.7px"></div><div class="c" style="left:643.9px"></div><div class="c" style="left:764.0px"></div><div class="ca" style="left:883.7px"></div><div class="cf" style="left:1004.3px"></div><div class="seg" style="left:917.7px;width:91.2px"></div><div class="dl" style="left:929.7px;top:58.5px"><b>۱</b>۹ روز</div><div class="bd d" style="left:982.8px;width:76px"><b class="z">۰</b>۴/<b class="z">۰</b>۷/۲۳</div><div class="bd d" style="left:865.7px;width:70px"><b class="z">۰</b>۴/<b class="z">۰</b>۸/<b>۱</b>۲</div><div class="dash" style="left:846.0px;width:19.7px;top:41.5px"></div><div class="bd p" style="left:765.0px;width:81px"><b>۱</b><b class="z">۰</b>۶ روز قبل</div><div class="desc" style="top:111px">سود انباشته</div><div class="ts" style="width:143.0px"><b>۱</b>۴<b class="z">۰</b>۴/<b class="z">۰</b>۸/<b>۱</b>۲ <b>۱</b>۷:۴<b>۱</b>:۴۶</div><div class="cap" style="left:405.0px;width:76px;text-align:center;top:144px">سرمایه:</div><div class="bx b" style="left:263.0px;width:145px;top:143px">۳<b>۱</b>۷ میلیارد تومان</div><div class="bx g" style="left:17.0px;width:149px;top:143px">۶۳۴ میلیارد تومان</div><div class="fl" style="left:166.0px;width:97px;top:157px"></div><div class="ar" style="left:209.0px;top:150.5px"></div><div class="pl" style="left:174.5px;top:128px"><b>۱</b><b class="z">۰</b><b class="z">۰</b>%</div><div class="panel"><div class="nm">فنورد</div><div class="l1"></div><div class="pc"><b>۱</b><b class="z">۰</b><b class="z">۰</b>%</div><div class="l2"></div><div class="pr">۸,<b class="z">۰</b><b class="z">۰</b><b class="z">۰</b><small>ریال</small></div></div></div>
<div class="row" style="top:1332.0px"><div class="col" style="left:0.00px;width:120.16px;background:linear-gradient(to bottom,rgba(215,75,73,0.11) 0%,rgba(215,75,73,0.05) 45%,rgba(215,75,73,0) 100%)"></div><div class="cl" style="left:119.16px;background:linear-gradient(to bottom,rgba(215,75,73,0.15) 0%,rgba(215,75,73,0.06) 50%,rgba(215,75,73,0.015) 100%)"></div><div class="col" style="left:120.16px;width:120.16px;background:linear-gradient(to bottom,rgba(232,120,76,0.11) 0%,rgba(232,120,76,0.05) 45%,rgba(232,120,76,0) 100%)"></div><div class="cl" style="left:239.31px;background:linear-gradient(to bottom,rgba(232,120,76,0.15) 0%,rgba(232,120,76,0.06) 50%,rgba(232,120,76,0.015) 100%)"></div><div class="col" style="left:240.31px;width:120.16px;background:linear-gradient(to bottom,rgba(242,162,90,0.11) 0%,rgba(242,162,90,0.05) 45%,rgba(242,162,90,0) 100%)"></div><div class="cl" style="left:359.47px;background:linear-gradient(to bottom,rgba(242,162,90,0.15) 0%,rgba(242,162,90,0.06) 50%,rgba(242,162,90,0.015) 100%)"></div><div class="col" style="left:360.47px;width:120.16px;background:linear-gradient(to bottom,rgba(236,196,108,0.11) 0%,rgba(236,196,108,0.05) 45%,rgba(236,196,108,0) 100%)"></div><div class="cl" style="left:479.62px;background:linear-gradient(to bottom,rgba(236,196,108,0.15) 0%,rgba(236,196,108,0.06) 50%,rgba(236,196,108,0.015) 100%)"></div><div class="col" style="left:480.62px;width:120.16px;background:linear-gradient(to bottom,rgba(200,199,104,0.11) 0%,rgba(200,199,104,0.05) 45%,rgba(200,199,104,0) 100%)"></div><div class="cl" style="left:599.78px;background:linear-gradient(to bottom,rgba(200,199,104,0.15) 0%,rgba(200,199,104,0.06) 50%,rgba(200,199,104,0.015) 100%)"></div><div class="col" style="left:600.78px;width:120.16px;background:linear-gradient(to bottom,rgba(151,185,95,0.11) 0%,rgba(151,185,95,0.05) 45%,rgba(151,185,95,0) 100%)"></div><div class="cl" style="left:719.93px;background:linear-gradient(to bottom,rgba(151,185,95,0.15) 0%,rgba(151,185,95,0.06) 50%,rgba(151,185,95,0.015) 100%)"></div><div class="col" style="left:720.93px;width:120.16px;background:linear-gradient(to bottom,rgba(98,168,96,0.11) 0%,rgba(98,168,96,0.05) 45%,rgba(98,168,96,0) 100%)"></div><div class="cl" style="left:840.09px;background:linear-gradient(to bottom,rgba(98,168,96,0.15) 0%,rgba(98,168,96,0.06) 50%,rgba(98,168,96,0.015) 100%)"></div><div class="col" style="left:841.09px;width:120.16px;background:linear-gradient(to bottom,rgba(12,156,102,0.11) 0%,rgba(12,156,102,0.05) 45%,rgba(12,156,102,0) 100%)"></div><div class="cl" style="left:960.24px;background:linear-gradient(to bottom,rgba(12,156,102,0.15) 0%,rgba(12,156,102,0.06) 50%,rgba(12,156,102,0.015) 100%)"></div><div class="col" style="left:961.24px;width:120.16px;background:linear-gradient(to bottom,rgba(10,127,112,0.11) 0%,rgba(10,127,112,0.05) 45%,rgba(10,127,112,0) 100%)"></div><div class="cl" style="left:1080.40px;background:linear-gradient(to bottom,rgba(10,127,112,0.15) 0%,rgba(10,127,112,0.06) 50%,rgba(10,127,112,0.015) 100%)"></div><div class="hl" style="left:59.6px;width:961.2px"></div><div class="c" style="left:43.1px"></div><div class="c" style="left:523.7px"></div><div class="c" style="left:643.9px"></div><div class="c" style="left:764.0px"></div><div class="ca" style="left:883.7px"></div><div class="cf" style="left:1004.3px"></div><div class="seg" style="left:917.7px;width:91.2px"></div><div class="dl" style="left:929.7px;top:58.5px"><b>۱</b>۲ روز</div><div class="bd d" style="left:984.3px;width:73px"><b class="z">۰</b>۴/<b class="z">۰</b>۷/۲۹</div><div class="bd d" style="left:865.7px;width:70px"><b class="z">۰</b>۴/<b class="z">۰</b>۸/<b>۱</b>۲</div><div class="dash" style="left:846.0px;width:19.7px;top:41.5px"></div><div class="bd p" style="left:765.0px;width:81px"><b>۱</b><b class="z">۰</b>۶ روز قبل</div><div class="desc" style="top:111px">سود انباشته</div><div class="ts" style="width:145.5px"><b>۱</b>۴<b class="z">۰</b>۴/<b class="z">۰</b>۸/<b>۱</b>۲ <b>۱</b>۴:۲۸:<b class="z">۰</b>۶</div><div class="cap" style="left:402.0px;width:76px;text-align:center;top:144px">سرمایه:</div><div class="bx b" style="left:266.0px;width:139px;top:143px"><b>۱</b><b class="z">۰</b><b class="z">۰</b> میلیارد تومان</div><div class="bx g" style="left:17.0px;width:137px;top:143px">۲<b>۱</b><b>۱</b> میلیارد تومان</div><div class="fl" style="left:154.0px;width:112px;top:157px"></div><div class="ar" style="left:204.5px;top:150.5px"></div><div class="pl" style="left:170.0px;top:128px"><b>۱</b><b>۱</b><b>۱</b>%</div><div class="panel"><div class="nm">وسپاهان</div><div class="l1"></div><div class="pc"><b>۱</b><b>۱</b><b>۱</b>%</div><div class="l2"></div><div class="pr">۸۷<b class="z">۰</b><small>ریال</small></div></div></div>
<div class="row" style="top:1535.8600000000001px"><div class="col" style="left:0.00px;width:120.16px;background:linear-gradient(to bottom,rgba(215,75,73,0.11) 0%,rgba(215,75,73,0.05) 45%,rgba(215,75,73,0) 100%)"></div><div class="cl" style="left:119.16px;background:linear-gradient(to bottom,rgba(215,75,73,0.15) 0%,rgba(215,75,73,0.06) 50%,rgba(215,75,73,0.015) 100%)"></div><div class="col" style="left:120.16px;width:120.16px;background:linear-gradient(to bottom,rgba(232,120,76,0.11) 0%,rgba(232,120,76,0.05) 45%,rgba(232,120,76,0) 100%)"></div><div class="cl" style="left:239.31px;background:linear-gradient(to bottom,rgba(232,120,76,0.15) 0%,rgba(232,120,76,0.06) 50%,rgba(232,120,76,0.015) 100%)"></div><div class="col" style="left:240.31px;width:120.16px;background:linear-gradient(to bottom,rgba(242,162,90,0.11) 0%,rgba(242,162,90,0.05) 45%,rgba(242,162,90,0) 100%)"></div><div class="cl" style="left:359.47px;background:linear-gradient(to bottom,rgba(242,162,90,0.15) 0%,rgba(242,162,90,0.06) 50%,rgba(242,162,90,0.015) 100%)"></div><div class="col" style="left:360.47px;width:120.16px;background:linear-gradient(to bottom,rgba(236,196,108,0.11) 0%,rgba(236,196,108,0.05) 45%,rgba(236,196,108,0) 100%)"></div><div class="cl" style="left:479.62px;background:linear-gradient(to bottom,rgba(236,196,108,0.15) 0%,rgba(236,196,108,0.06) 50%,rgba(236,196,108,0.015) 100%)"></div><div class="col" style="left:480.62px;width:120.16px;background:linear-gradient(to bottom,rgba(200,199,104,0.11) 0%,rgba(200,199,104,0.05) 45%,rgba(200,199,104,0) 100%)"></div><div class="cl" style="left:599.78px;background:linear-gradient(to bottom,rgba(200,199,104,0.15) 0%,rgba(200,199,104,0.06) 50%,rgba(200,199,104,0.015) 100%)"></div><div class="col" style="left:600.78px;width:120.16px;background:linear-gradient(to bottom,rgba(151,185,95,0.11) 0%,rgba(151,185,95,0.05) 45%,rgba(151,185,95,0) 100%)"></div><div class="cl" style="left:719.93px;background:linear-gradient(to bottom,rgba(151,185,95,0.15) 0%,rgba(151,185,95,0.06) 50%,rgba(151,185,95,0.015) 100%)"></div><div class="col" style="left:720.93px;width:120.16px;background:linear-gradient(to bottom,rgba(98,168,96,0.11) 0%,rgba(98,168,96,0.05) 45%,rgba(98,168,96,0) 100%)"></div><div class="cl" style="left:840.09px;background:linear-gradient(to bottom,rgba(98,168,96,0.15) 0%,rgba(98,168,96,0.06) 50%,rgba(98,168,96,0.015) 100%)"></div><div class="col" style="left:841.09px;width:120.16px;background:linear-gradient(to bottom,rgba(12,156,102,0.11) 0%,rgba(12,156,102,0.05) 45%,rgba(12,156,102,0) 100%)"></div><div class="cl" style="left:960.24px;background:linear-gradient(to bottom,rgba(12,156,102,0.15) 0%,rgba(12,156,102,0.06) 50%,rgba(12,156,102,0.015) 100%)"></div><div class="col" style="left:961.24px;width:120.16px;background:linear-gradient(to bottom,rgba(10,127,112,0.11) 0%,rgba(10,127,112,0.05) 45%,rgba(10,127,112,0) 100%)"></div><div class="cl" style="left:1080.40px;background:linear-gradient(to bottom,rgba(10,127,112,0.15) 0%,rgba(10,127,112,0.06) 50%,rgba(10,127,112,0.015) 100%)"></div><div class="hl" style="left:59.6px;width:961.2px"></div><div class="c" style="left:43.1px"></div><div class="c" style="left:163.2px"></div><div class="c" style="left:283.4px"></div><div class="c" style="left:403.5px"></div><div class="c" style="left:523.7px"></div><div class="c" style="left:643.9px"></div><div class="c" style="left:764.0px"></div><div class="ca" style="left:883.7px"></div><div class="cf" style="left:1004.3px"></div><div class="seg" style="left:917.7px;width:91.2px"></div><div class="dl" style="left:929.7px;top:58.5px">۴۷ روز</div><div class="bd d" style="left:983.8px;width:74px"><b class="z">۰</b>۴/<b class="z">۰</b>۶/۲۵</div><div class="bd d" style="left:865.7px;width:70px"><b class="z">۰</b>۴/<b class="z">۰</b>۸/<b>۱</b>۲</div><div class="dash" style="left:846.0px;width:19.7px;top:41.5px"></div><div class="bd p" style="left:765.0px;width:81px"><b>۱</b><b class="z">۰</b>۶ روز قبل</div><div class="desc" style="top:111px">مطالبات حال شده سهامداران و آورده نقدی ,سایر اندوخته ها</div><div class="ts" style="width:148.0px"><b>۱</b>۴<b class="z">۰</b>۴/<b class="z">۰</b>۸/<b>۱</b>۲ <b class="z">۰</b>۸:۵۶:<b class="z">۰</b>۵</div><div class="cap" style="left:409.0px;width:76px;text-align:center;top:144px">سرمایه:</div><div class="bx b" style="left:258.0px;width:154px;top:143px">۲۵<b class="z">۰</b><b class="z">۰</b> میلیارد تومان</div><div class="bx g" style="left:17.0px;width:151px;top:143px">۶<b class="z">۰</b><b class="z">۰</b><b class="z">۰</b> میلیارد تومان</div><div class="fl" style="left:168.0px;width:90px;top:157px"></div><div class="ar" style="left:207.5px;top:150.5px"></div><div class="pl" style="left:173.0px;top:128px"><b>۱</b>۴<b class="z">۰</b>%</div><div class="panel"><div class="nm">وبشهر</div><div class="l1"></div><div class="pc"><b>۱</b>۴<b class="z">۰</b>%</div><div class="l2"></div><div class="pr">۶,<b class="z">۰</b>۳<b class="z">۰</b><small>ریال</small></div></div></div>
<div class="row" style="top:1739.72px"><div class="col" style="left:0.00px;width:120.16px;background:linear-gradient(to bottom,rgba(215,75,73,0.11) 0%,rgba(215,75,73,0.05) 45%,rgba(215,75,73,0) 100%)"></div><div class="cl" style="left:119.16px;background:linear-gradient(to bottom,rgba(215,75,73,0.15) 0%,rgba(215,75,73,0.06) 50%,rgba(215,75,73,0.015) 100%)"></div><div class="col" style="left:120.16px;width:120.16px;background:linear-gradient(to bottom,rgba(232,120,76,0.11) 0%,rgba(232,120,76,0.05) 45%,rgba(232,120,76,0) 100%)"></div><div class="cl" style="left:239.31px;background:linear-gradient(to bottom,rgba(232,120,76,0.15) 0%,rgba(232,120,76,0.06) 50%,rgba(232,120,76,0.015) 100%)"></div><div class="col" style="left:240.31px;width:120.16px;background:linear-gradient(to bottom,rgba(242,162,90,0.11) 0%,rgba(242,162,90,0.05) 45%,rgba(242,162,90,0) 100%)"></div><div class="cl" style="left:359.47px;background:linear-gradient(to bottom,rgba(242,162,90,0.15) 0%,rgba(242,162,90,0.06) 50%,rgba(242,162,90,0.015) 100%)"></div><div class="col" style="left:360.47px;width:120.16px;background:linear-gradient(to bottom,rgba(236,196,108,0.11) 0%,rgba(236,196,108,0.05) 45%,rgba(236,196,108,0) 100%)"></div><div class="cl" style="left:479.62px;background:linear-gradient(to bottom,rgba(236,196,108,0.15) 0%,rgba(236,196,108,0.06) 50%,rgba(236,196,108,0.015) 100%)"></div><div class="col" style="left:480.62px;width:120.16px;background:linear-gradient(to bottom,rgba(200,199,104,0.11) 0%,rgba(200,199,104,0.05) 45%,rgba(200,199,104,0) 100%)"></div><div class="cl" style="left:599.78px;background:linear-gradient(to bottom,rgba(200,199,104,0.15) 0%,rgba(200,199,104,0.06) 50%,rgba(200,199,104,0.015) 100%)"></div><div class="col" style="left:600.78px;width:120.16px;background:linear-gradient(to bottom,rgba(151,185,95,0.11) 0%,rgba(151,185,95,0.05) 45%,rgba(151,185,95,0) 100%)"></div><div class="cl" style="left:719.93px;background:linear-gradient(to bottom,rgba(151,185,95,0.15) 0%,rgba(151,185,95,0.06) 50%,rgba(151,185,95,0.015) 100%)"></div><div class="col" style="left:720.93px;width:120.16px;background:linear-gradient(to bottom,rgba(98,168,96,0.11) 0%,rgba(98,168,96,0.05) 45%,rgba(98,168,96,0) 100%)"></div><div class="cl" style="left:840.09px;background:linear-gradient(to bottom,rgba(98,168,96,0.15) 0%,rgba(98,168,96,0.06) 50%,rgba(98,168,96,0.015) 100%)"></div><div class="col" style="left:841.09px;width:120.16px;background:linear-gradient(to bottom,rgba(12,156,102,0.11) 0%,rgba(12,156,102,0.05) 45%,rgba(12,156,102,0) 100%)"></div><div class="cl" style="left:960.24px;background:linear-gradient(to bottom,rgba(12,156,102,0.15) 0%,rgba(12,156,102,0.06) 50%,rgba(12,156,102,0.015) 100%)"></div><div class="col" style="left:961.24px;width:120.16px;background:linear-gradient(to bottom,rgba(10,127,112,0.11) 0%,rgba(10,127,112,0.05) 45%,rgba(10,127,112,0) 100%)"></div><div class="cl" style="left:1080.40px;background:linear-gradient(to bottom,rgba(10,127,112,0.15) 0%,rgba(10,127,112,0.06) 50%,rgba(10,127,112,0.015) 100%)"></div><div class="hl" style="left:59.6px;width:961.2px"></div><div class="c" style="left:43.1px"></div><div class="c" style="left:163.2px"></div><div class="c" style="left:283.4px"></div><div class="c" style="left:403.5px"></div><div class="c" style="left:523.7px"></div><div class="c" style="left:643.9px"></div><div class="c" style="left:764.0px"></div><div class="c" style="left:884.2px"></div><div class="ca" style="left:1003.8px"></div><div class="bd d" style="left:987.3px;width:67px"><b class="z">۰</b>۴/<b class="z">۰</b>۸/<b>۱</b><b>۱</b></div><div class="dash" style="left:966.0px;width:21.3px;top:41.5px"></div><div class="bd p" style="left:885.0px;width:81px"><b>۱</b><b class="z">۰</b>۷ روز قبل</div><div class="desc" style="top:111px">مطالبات حال شده سهامداران و آورده نقدی</div><div class="sum" style="top:146px">مجموع مراحل افزایش سرمایه:%۸۴</div><div class="ts" style="width:140.5px"><b>۱</b>۴<b class="z">۰</b>۴/<b class="z">۰</b>۸/<b>۱</b><b>۱</b> <b>۱</b>۸:۳۶:<b>۱</b>۵</div><div class="cap" style="left:650.0px;width:76px;text-align:center;top:143.3px">سرمایه:</div><div class="bx h" style="left:500.0px;width:154px;top:142.3px">۲<b>۱</b>۷۸ میلیارد تومان</div><div class="bx b" style="left:254.0px;width:163px;top:142.3px">۳۴۷۸ میلیارد تومان</div><div class="bx g" style="left:17.0px;width:151px;top:142.3px">۴<b class="z">۰</b><b class="z">۰</b><b class="z">۰</b> میلیارد تومان</div><div class="fl" style="left:417.0px;width:83px;top:156.3px"></div><div class="ar lt" style="left:453.0px;top:149.8px"></div><div class="pl lt" style="left:418.5px;top:129.3px">۶<b class="z">۰</b>%</div><div class="sl lt" style="left:413.5px;top:163.3px">مرحله قبلی</div><div class="fl" style="left:168.0px;width:86px;top:156.3px"></div><div class="ar" style="left:205.5px;top:149.8px"></div><div class="pl" style="left:171.0px;top:129.3px"><b>۱</b>۵%</div><div class="sl" style="left:166.0px;top:163.3px">مرحله فعلی</div><div class="arc" style="left:95.0px;width:481px;top:124.30000000000001px"><i class="t"></i><i class="l"></i><i class="r"></i></div><div class="ar" style="left:328.5px;top:117.80000000000001px"></div><div class="pl" style="left:295.5px;top:100.30000000000001px">۸۴%</div><div class="panel"><div class="nm">امید</div><div class="l1"></div><div class="pc"><b>۱</b>۵%</div><div class="l2"></div><div class="pr">۳,۲۲۲<small>ریال</small></div></div></div>
<div id="wm"><span><i style="width:198.7px">@</i><i style="width:144.2px">C</i><i style="width:126.3px">o</i><i style="width:124.8px">d</i><i style="width:120.5px">a</i><i style="width:53.8px">l</i><i style="width:144.2px">C</i><i style="width:122.0px">h</i><i style="width:120.5px">a</i><i style="width:75.0px">r</i><i style="width:72.4px">t</i></span></div>
<div id="ftr"><div class="bar"></div><div class="blk"></div><div class="p1"></div><div class="p2"></div><div class="p3"></div><div class="ln"></div><div class="t1">@CodalChart</div><div class="hr"></div><div class="t2">کانال کدال چارت</div><div class="t3">سه شنبه ۲۸ بهمن <b>۱</b>۴<b class="z">۰</b>۴ ساعت ۲۳:۵۳:<b>۱</b>۳</div></div>
</body></html>
